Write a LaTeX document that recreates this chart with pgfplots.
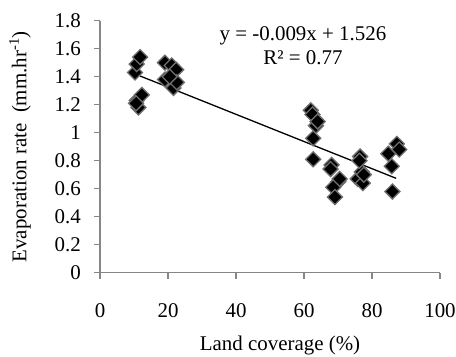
\documentclass[border=0pt]{standalone}
\usepackage{pgfplots}
\pgfplotsset{compat=1.18}
\usepackage{fontspec}
\setmainfont{Liberation Serif}
\definecolor{axgray}{RGB}{134,134,134}
\definecolor{mkgray}{RGB}{110,110,110}
\begin{document}
\fontsize{21pt}{25pt}\selectfont
\begin{tikzpicture}[x=1bp,y=1bp]
\useasboundingbox (-100,-83.3) rectangle (356,272.7);
\begin{axis}[
  at={(0,0)}, anchor=south west,
  scale only axis, width=340bp, height=252bp,
  xmin=0, xmax=100, ymin=0, ymax=1.8,
  xtick={0,20,40,60,80,100},
  ytick={0,0.2,0.4,0.6,0.8,1,1.2,1.4,1.6,1.8},
  axis x line*=bottom, axis y line*=left,
  axis line style={axgray, line width=1.3bp},
  tick align=outside, major tick length=6bp,
  tick style={axgray, line width=1.3bp},
  /pgf/number format/assume math mode=true,
  /pgf/number format/fixed,
  /pgf/number format/precision=1,
  yticklabel style={anchor=east, inner sep=0pt, xshift=-13bp, font=\fontsize{21pt}{25pt}\selectfont},
  xticklabel style={anchor=north, inner sep=0pt, yshift=-25bp, font=\fontsize{21pt}{25pt}\selectfont},
  clip=false,
]
\addplot[only marks, mark=square*, mark size=5.3bp,
  mark options={rotate=45, fill=black, draw=mkgray, line width=1.3bp}]
  coordinates {
  (10.3,1.43) (10.8,1.49) (11.8,1.54) (10.8,1.23) (12.3,1.27) (11.3,1.18) (10.6,1.21)
  (19.1,1.50) (21.1,1.48) (22.4,1.45) (19.1,1.38) (21.6,1.32) (22.6,1.36) (20.5,1.40)
  (62.0,1.16) (62.5,1.13) (63.5,1.05) (64.0,1.08) (62.7,0.96) (62.7,0.81)
  (68.1,0.77) (67.8,0.74) (70.1,0.65) (68.6,0.61) (69.1,0.54) (70.5,0.67)
  (76.5,0.83) (75.8,0.67) (77.3,0.64) (77.0,0.72) (76.3,0.80) (77.6,0.70)
  (87.3,0.92) (84.8,0.85) (88.0,0.88) (85.8,0.76) (86.0,0.58)
  };
\addplot[black, line width=1.3bp, no marks] coordinates {(11.8,1.405) (87.1,0.674)};
\node[anchor=base] at (axis cs:59.7,1.662) {y = -0.009x + 1.526};
\node[anchor=base] at (axis cs:59.7,1.484) {R² = 0.77};
\end{axis}
\node[rotate=90, anchor=center] at (-80,126) {Evaporation rate\ \ (mm.hr\textsuperscript{-1})};
\node[anchor=base] at (180,-77.5) {Land coverage (\%)};
\end{tikzpicture}
\end{document}
